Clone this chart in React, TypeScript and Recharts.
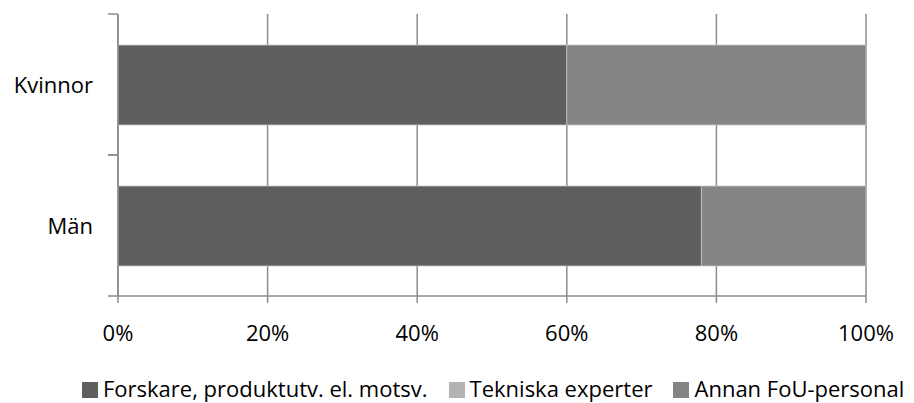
import React from 'react';
import { BarChart, Bar, XAxis, YAxis, CartesianGrid, Legend } from 'recharts';

const categories = ['Kvinnor', 'Män'];
const forskare = [60, 78];
const tekniska = [0, 0];
const annan = [40, 22];
const xTicks = [0, 20, 40, 60, 80, 100];

const seriesNames = ['Forskare, produktutv. el. motsv.', 'Tekniska experter', 'Annan FoU-personal'];
const seriesColors = ['#5f5f5f', '#b3b3b3', '#848484'];

const data = categories.map((c, i) => ({
    name: c,
    forskare: forskare[i],
    tekniska: tekniska[i],
    annan: annan[i],
}));

const font = '"Open Sans", sans-serif';

// y tick: label plus tick marks on band edges
const YTick = (props: any) => {
    const { x, y, payload } = props;
    const half = 70.5;
    return (
        <g>
            <line x1={x - 2} x2={x + 8} y1={y - half} y2={y - half} stroke="#8c8c8c" strokeWidth={1.5} />
            <line x1={x - 2} x2={x + 8} y1={y + half} y2={y + half} stroke="#8c8c8c" strokeWidth={1.5} />
            <text x={x - 17} y={y} dy={8} textAnchor="end" fontSize={22} fontFamily={font} fill="#000">
                {payload.value}
            </text>
        </g>
    );
};

const LegendContent = () => (
    <div style={{ display: 'flex', alignItems: 'center', fontFamily: font, fontSize: 22, color: '#000', whiteSpace: 'nowrap' }}>
        {seriesNames.map((n, i) => (
            <div key={n} style={{ display: 'flex', alignItems: 'center', marginRight: 21 }}>
                <span style={{ width: 16, height: 16, background: seriesColors[i], display: 'inline-block', marginRight: 5, marginTop: 3 }} />
                <span>{n}</span>
            </div>
        ))}
    </div>
);

export default function App() {
    return (
        <div style={{ position: 'absolute', left: 0, top: 0, background: '#fff' }}>
            <BarChart
                width={914}
                height={403}
                data={data}
                layout="vertical"
                margin={{ top: 14, right: 48, left: 0, bottom: 0 }}
            >
                <CartesianGrid horizontal={false} stroke="#8c8c8c" strokeWidth={1.5} />
                <XAxis
                    type="number"
                    domain={[0, 100]}
                    ticks={xTicks}
                    tickFormatter={(v) => `${v}%`}
                    stroke="#8c8c8c"
                    strokeWidth={1.5}
                    tickSize={7}
                    tickMargin={22}
                    height={50}
                    tick={{ fontSize: 22, fontFamily: font, fill: '#000' }}
                />
                <YAxis
                    type="category"
                    dataKey="name"
                    width={118}
                    stroke="#8c8c8c"
                    strokeWidth={1.5}
                    tickLine={false}
                    tick={<YTick />}
                />
                <Legend
                    verticalAlign="bottom"
                    height={57}
                    content={<LegendContent />}
                    wrapperStyle={{ left: 82, top: 373, width: 832 }}
                />
                <Bar dataKey="forskare" name={seriesNames[0]} stackId="a" fill={seriesColors[0]} barSize={80} stroke="#c8c8c8" strokeWidth={0.8} isAnimationActive={false} />
                <Bar dataKey="tekniska" name={seriesNames[1]} stackId="a" fill={seriesColors[1]} barSize={80} isAnimationActive={false} />
                <Bar dataKey="annan" name={seriesNames[2]} stackId="a" fill={seriesColors[2]} barSize={80} stroke="#c8c8c8" strokeWidth={0.8} isAnimationActive={false} />
            </BarChart>
        </div>
    );
}
